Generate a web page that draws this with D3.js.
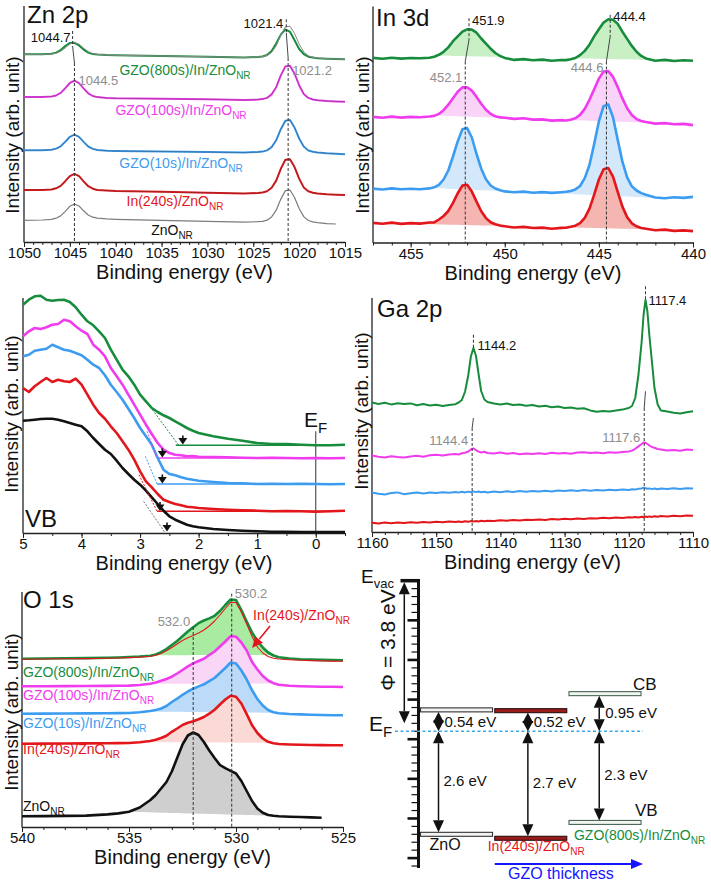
<!DOCTYPE html>
<html><head><meta charset="utf-8">
<script src="https://cdn.jsdelivr.net/npm/d3@7/dist/d3.min.js"></script>
<style>html,body{margin:0;padding:0;background:#fff;}svg{display:block;}</style>
</head><body>
<svg id="chart" width="711" height="882"></svg>
<script>
// ======================= DATA =======================
const SERIES_MAIN = ['GZO(800s)/In/ZnO', 'GZO(100s)/In/ZnO', 'GZO(10s)/In/ZnO', 'In(240s)/ZnO', 'ZnO'];
const SERIES_SUB = 'NR';

// ---- Zn 2p ----
const ZN_TICKS = [1050, 1045, 1040, 1035, 1030, 1025, 1020, 1015];
const ZN_BE = [1050,1048,1047,1046.5,1046,1045.5,1045,1044.5,1044,1043.5,1043,1042.5,1042,1041,1040,1035,1030,1026,1024.5,1024,1023.5,1023,1022.5,1022,1021.5,1021,1020.5,1020,1019.5,1019,1018.5,1018,1017,1016,1015];
const ZN_GZO800 = [187.7,187.8,188.3,189.4,191.9,196.0,199.1,199.2,196.5,192.4,189.4,187.9,187.4,186.9,186.7,186.0,185.3,184.5,185.0,185.5,187.0,191.0,198.5,207.4,212.6,210.2,201.8,193.0,187.8,185.3,184.4,183.8,183.3,183.0,182.7];
const ZN_GZO800_REF = [187.7,187.7,188.0,188.8,190.7,194.1,197.9,199.6,197.9,193.9,190.4,188.4,187.5,187.0,186.7,186.0,185.3,184.5,185.0,185.4,186.4,189.6,196.2,207.0,215.2,215.8,208.6,197.9,190.0,186.2,184.8,184.1,183.3,183.0,182.7];
const ZN_GZO100 = [145.0,145.0,145.5,146.5,149.1,153.8,159.0,161.3,158.8,153.6,148.7,146.0,144.9,144.1,143.7,143.2,142.7,141.9,142.4,142.9,144.1,147.6,154.8,166.6,175.6,176.2,168.3,156.8,148.0,144.1,142.5,141.8,141.0,140.6,140.3];
const ZN_GZO10 = [91.7,91.8,92.3,93.4,95.7,100.2,105.2,107.3,105.1,100.1,95.5,93.1,92.0,91.3,91.0,90.5,90.0,89.4,90.0,90.4,91.6,94.9,101.7,112.8,121.3,122.0,114.4,103.5,95.4,91.5,90.2,89.5,88.7,88.2,87.7];
const ZN_IN240 = [52.0,52.1,52.5,53.7,56.1,60.8,65.9,68.2,65.8,60.6,55.8,53.3,52.0,51.4,51.0,50.2,49.3,48.5,49.0,49.5,50.7,54.2,61.4,73.2,82.2,82.8,74.9,63.4,54.6,50.7,49.2,48.4,47.7,47.3,47.0];
const ZN_ZNO = [21.7,22.0,22.6,23.8,26.1,30.6,35.7,38.0,36.0,31.2,27.0,24.8,23.8,23.1,22.7,21.7,20.7,19.9,20.3,20.7,21.8,25.1,31.8,42.9,51.4,52.0,44.5,33.5,25.4,21.5,20.2,19.4,18.4,18.0,null];
const ZN_PEAK_TOP = [1044.7, 1021.4];
const ZN_PEAK_BOT = [1044.5, 1021.2];

// ---- In 3d ----
const IN_TICKS = [455, 450, 445, 440];
const IN_BE = [457,456.5,456,455.5,455,454.5,454,453.75,453.5,453.25,453,452.75,452.5,452.25,452,451.75,451.5,451.25,451,450.75,450.5,450.25,450,449.5,449,448.5,448,447.5,447,446.75,446.5,446.25,446,445.75,445.5,445.25,445,444.75,444.5,444.25,444,443.75,443.5,443.25,443,442.75,442.5,442,441.5,441,440.5,440];
const IN_GZO800 = [184.6,183.7,184.8,183.9,184.5,184.3,184.8, 185.7,187.7,190.7,195.1,201.3,206.1,210.9,213.2,212.9,209.8,204.0,198.9,193.8,189.5,186.5, 184.6,182.6,183.4,182.2,182.9,181.8,182.5, 182.4,183.2,184.5,187.4,191.6,197.8,206.1,213.2,219.9,223.2,222.8,218.6,210.8,203.6,196.6,190.7,186.6, 184.1,181.8,182.6,181.5,182.3,181.7];
const IN_GZO100 = [125.6,124.8,125.9,124.9,125.6,125.2,126.0, 126.6,128.6,132.3,137.8,144.3,150.7,155.1,155.3,151.9,145.6,138.8,132.8,128.7,126.2,125.1, 124.8,123.6,124.2,122.9,123.1,121.9,122.4, 122.0,122.7,124.2,127.6,133.6,142.7,153.3,163.9,171.0,171.4,165.7,155.4,144.1,134.3,127.5,123.4,121.5, 120.5,118.9,119.4,118.2,118.6,117.4];
const IN_GZO10 = [53.9,53.0,54.1,53.2,53.8,53.3,54.1, 55.2,57.6,63.0,72.0,86.0,101.1,113.2,114.4,105.0,88.5,73.8,63.3,57.0,54.0,52.2, 51.1,50.2,50.9,49.8,50.4,49.6,50.3, 50.7,51.5,53.1,56.5,64.4,77.5,98.5,121.1,136.3,138.0,125.3,102.7,80.8,65.2,56.2,52.0,49.4, 47.7,45.0,44.2,45.3,44.6,45.6];
const IN_IN240 = [19.6,18.8,19.9,18.6,19.4,18.9,20.0, 20.1,23.0,26.5,31.5,39.6,49.2,56.9,57.8,50.9,40.9,31.3,24.4,20.2,18.2,16.9, 16.2,15.0,15.6,14.5,14.9,13.8,14.6, 14.8,15.7,16.8,19.3,24.7,33.8,47.8,63.0,73.3,74.5,65.9,50.6,35.9,25.4,19.2,16.2,14.5, 13.7,12.2,12.9,11.6,12.1,11.4];
const IN_FILL = [[453.6, 441.6], [453.7, 441.6], [453.9, 441.6], [457, 441.5]];
const IN_PEAK_TOP = [451.9, 444.4];
const IN_PEAK_BOT = [452.1, 444.6];

// ---- VB ----
const VB_TICKS = [5, 4, 3, 2, 1, 0];
const VB_BE = [5,4.9,4.8,4.7,4.6,4.5,4.4,4.3,4.2,4.1,4,3.9,3.8,3.7,3.6,3.5,3.4,3.3,3.2,3.1,3,2.9,2.8,2.7,2.6,2.5,2.4,2.3,2.2,2.1,2,1.75,1.5,1.25,1,0.75,0.5,0.25,0,-0.25,-0.5];
const VB_GZO800 = [228.3,233.3,236.7,237.3,233.3,232.3,233,233.3,231,225.7,218.3,211.7,207.7,201.7,195,183.3,173.3,163.3,156.7,148.3,138.3,131.7,125,121,117.7,115,111.7,108.3,105,102.3,100,96.7,94.3,92.3,90,89,89,88.3,87.7,87.7,88.3];
const VB_GZO100 = [196.7,201.7,205,204,205.7,208.3,209,213.3,211.7,206.7,202.3,199,188.3,183.3,176.7,165,156.7,148.3,138.3,128.3,118.3,108.3,99,90,83.3,80,78.3,77.7,76.7,77,76.3,76,75.7,75.3,75,75.3,75,74.7,75,74.7,75];
const VB_GZO10 = [176.7,178.3,182.3,183.3,184.3,188.3,185.7,183.3,182.3,180,177.7,173.3,168.3,165,157.7,148.3,141,133.3,124.3,115,105,96.7,88.3,75,63.3,59,57.7,55.7,54.3,53.3,52.3,51,50,49.7,49,49.3,49,49.3,49,48.7,49];
const VB_IN240 = [145,141,146.7,151,155,151,153.3,151.7,151,154.3,148.3,138.3,128.3,120,114.3,106.7,100,91.7,83.3,73.3,61.7,51.7,45.7,39,33.3,31,29,27.7,26.3,25.7,25,24,23.3,22.7,22.3,21.7,22,21.7,21.3,21.7,22.3];
const VB_ZNO = [112.3,112.7,113.3,114,114.3,114.3,113.3,111.7,110,108.3,106.7,101.7,95,89,83.3,79,72.3,65,59,53.3,48.3,42.3,35.7,29,22.3,16.7,13.3,10.7,8.3,6.7,5.7,4,3,2.3,1.7,1.3,1.3,1,1,1,1];
const VB_TANGENT = [[2.79,123.3,2.34,87.7],[2.88,101.7,2.71,75],[2.91,76.7,2.71,49],[3.02,58.3,2.71,21.7],[2.94,31.7,2.57,0]];
const VB_BASE = [[2.39,87.7],[2.71,75],[2.71,49],[2.71,21.7]];
const VB_ONSET = [2.27, 2.62, 2.62, 2.66, 2.54];
const VB_ONSET_LEVEL = [88.5, 75.5, 49.5, 22, 1.5];

// ---- Ga 2p ----
const GA_TICKS = [1160, 1150, 1140, 1130, 1120, 1110];
const GA_BE = [1160,1159,1158,1157,1156,1155,1154,1153,1152,1151,1150,1149,1148,1147,1146.5,1146,1145.5,1145,1144.6,1144.2,1143.8,1143.4,1143,1142.5,1142,1141,1140,1139,1138,1137,1136,1135,1134,1133,1132,1131,1130,1129,1128,1127,1126,1125,1124,1123,1122,1121,1120,1119.5,1119,1118.5,1118,1117.7,1117.4,1117.1,1116.8,1116.4,1116,1115.5,1115,1114,1113,1112,1111,1110];
const GA_GZO800 = [129.5,128.0,129.2,127.6,128.8,127.9,128.6,126.8,127.9,126.5,127.2,126.0,127.1,127.8, 129.5,132.0,140.5,157.0,175.5,184.0,176.0,158.0,141.0,132.5,130.0, 128.5,127.6,128.4,127.0,127.5,126.2,126.9,125.5,126.2,124.8,125.4,124.0,124.6,123.2,123.8,121.6,120.2,121.0,120.6,121.5,122.4,124.0, 126.0,134.0,157.0,190.0,217.0,232.0,220.5,197.0,170.5,144.0,127.5,121.5, 120.4,119.2,118.6,119.8,120.8];
const GA_GZO100 = [76.5,75.2,74.6,75.8,74.9,74.5,75.6,76.2,75.3,76.8,77.2,76.4,77.6,78.0, 77.5,78.8,79.2,80.5,82.6,83.6,81.8,80.4,79.5,80.3,79.0, 78.6,79.4,78.2,78.9,77.8,78.6,77.9,78.8,78.1,79.2,78.4,79.0,78.3,79.4,79.8,78.9,79.6,78.8,79.7,79.2,80.0,80.6, 81.4,83.2,85.6,88.0,89.6,89.2,88.0,86.5,85.0,84.2,83.0,82.6, 81.4,82.0,81.2,82.4,82.0];
const GA_GZO10 = [39.5,38.2,37.6,38.9,39.6,37.8,38.8,39.4,38.5,39.6,38.9,39.8,39.2,40.1, 39.4,40.2,39.6,40.4,39.8,40.6,39.9,40.5,39.7,40.3,39.6, 40.5,39.8,40.7,40.1,40.9,40.2,41.0,40.4,41.2,40.6,41.4,41.0,41.7,41.1,41.9,41.3,42.0,41.5,42.2,41.8,42.5,42.1, 42.8,42.4,43.2,43.6,44.4,43.8,43.2,43.6,42.9,43.5,42.8,43.4, 43.0,43.7,43.1,43.8,43.4];
const GA_IN240 = [9.2,8.4,9.6,8.8,9.5,8.9,9.8,9.2,10.1,9.4,10.3,9.7,10.5,10.0, 10.6,10.1,10.8,10.3,10.9,10.4,11.0,10.5,11.2,10.7,11.3, 11.0,11.8,11.3,12.0,11.5,12.3,11.9,12.6,12.1,12.9,12.4,13.2,12.7,13.5,13.0,13.8,13.4,14.2,13.7,14.5,14.0,14.8, 14.4,15.0,14.6,15.2,14.8,15.4,15.0,15.6,15.1,15.8,15.3,16.0, 15.6,16.3,15.8,16.6,16.2];
const GA_PEAK_TOP = [1144.2, 1117.4];
const GA_PEAK_BOT = [1144.4, 1117.6];

// ---- O 1s ----
const O_TICKS = [540, 535, 530, 525];
const O_BE = [540,539,538,537,536,535.5,535,534.5,534,533.75,533.5,533.25,533,532.75,532.5,532.25,532,531.75,531.5,531.25,531,530.75,530.5,530.25,530,529.75,529.5,529.25,529,528.75,528.5,528.25,528,527.5,527,526.5,526,525.5,525];
const O_GZO800 = [168.3,168.5,168.7,168.9,169.2,169.5,170.0,170.5,171.3, 172.5,174.8,178.0,182.0,186.0,190.8,195.5,199.8,203.8,206.5,208.6,211.2,216.0,222.0,227.5,227.0,217.0,205.5,194.5,186.0,179.5,174.5,171.5,169.8, 168.5,167.8,167.4,167.1,166.9,166.7];
const O_IN240_REF = [167.8,168.0,168.2,168.4,168.7,169.0,169.4,169.9,170.8, 171.8,173.5,176.2,179.5,183.0,186.5,189.2,191.5,194.0,197.0,201.0,206.0,212.0,218.5,224.5,224.5,215.0,203.0,190.5,180.0,174.0,170.5,168.8,168.0, 167.3,166.8,166.4,166.1,165.9,165.7];
const O_GZO100 = [140.7,140.8,140.9,141.0,141.1,141.2,141.4,142.0,143.3, 144.5,146.2,148.0,150.3,153.5,157.0,160.6,163.6,166.0,168.3,172.0,175.5,180.5,185.5,190.8,190.3,184.5,176.5,165.0,157.5,151.0,146.5,143.8,142.3, 141.2,140.8,140.5,140.3,140.2,140.0];
const O_GZO10 = [113.3,113.4,113.5,113.6,113.8,113.9,114.0,114.8,116.0, 117.0,118.5,121.0,125.0,128.3,132.2,135.5,138.3,140.6,142.7,145.8,149.0,154.0,159.0,164.5,163.5,156.5,147.5,136.7,128.0,121.5,117.0,114.8,113.8, 113.0,112.6,112.3,112.0,111.8,111.7];
const O_IN240 = [83.3,83.4,83.5,83.6,83.8,83.9,84.0,84.8,86.0, 87.3,89.0,91.3,95.2,98.5,102.0,104.2,105.7,107.7,110.0,113.3,117.3,122.5,127.5,131.3,130.3,123.5,112.8,101.7,94.0,88.5,85.2,83.8,83.0, 82.5,82.2,82.0,81.9,81.8,81.7];
const O_ZNO = [10.7,10.9,11.1,11.4,12.6,13.6,15.2,19.5,27.0, 32.0,38.5,45.0,55.5,69.0,82.5,91.5,94.5,92.0,85.0,76.5,69.0,62.0,58.8,56.2,53.5,46.0,36.0,26.0,18.5,14.2,12.0,11.2,10.8, 10.3,10.0,9.6,9.2,null,null];
const O_FILL = [[533.9, 528.3], [534.0, 528.2], [534.2, 528.1], [534.4, 528.3], [535.0, 528.3]];
const O_PEAKS = [532.0, 530.2];

// ---- Energy diagram ----
const ED_NAMES = ['ZnO', 'In(240s)/ZnO', 'GZO(800s)/In/ZnO'];
const ED_CB = [0.54, 0.52, 0.95];     // CB minimum above E_F (eV)
const ED_VB = [2.6, 2.7, 2.3];        // VB maximum below E_F (eV)
const ED_PHI = 3.8;                   // work function (eV)

// ======================= STYLE =======================
const FONT = '"Liberation Sans", Arial, Helvetica, sans-serif';
const COL = ['#178c3c', '#f03cee', '#3c9cf0', '#e3171b', '#111111'];
const IN_FILLCOL = ['#c8f0c4', '#fad3f8', '#d4e8fb', '#f5b5b1'];
const O_FILLCOL = ['#a9eca1', '#f9d5f6', '#bcdbf8', '#fbdad6', '#cfcfcf'];
const GRAYTXT = '#8d8d8d';

const svg = d3.select('#chart').attr('font-family', FONT);

function txt(g, x, y, main, sub, o = {}) {
  const size = o.size || 14;
  const t = g.append('text').attr('x', x).attr('y', y).attr('font-size', size)
    .attr('fill', o.color || '#111').attr('text-anchor', o.anchor || 'start');
  if (o.transform) t.attr('transform', o.transform);
  t.append('tspan').text(main);
  if (sub) t.append('tspan').attr('font-size', o.subSize || Math.round(size * 0.72))
    .attr('dy', o.subDy || Math.round(size * 0.3)).text(sub);
  return t;
}

function makePanel(o) {
  const g = svg.append('g');
  const x = d3.scaleLinear().domain(o.xDomain).range(o.xRange);
  const y = d3.scaleLinear().domain(o.yDomain).range(o.yRange);
  const yb = o.yRange[0];
  const gMin = g.append('g').attr('transform', `translate(0,${yb})`)
    .call(d3.axisBottom(x).tickValues(o.minor).tickSize(3).tickFormat(() => '').tickSizeOuter(0));
  gMin.select('.domain').remove();
  const gMaj = g.append('g').attr('transform', `translate(0,${yb})`)
    .call(d3.axisBottom(x).tickValues(o.major).tickSize(5).tickSizeOuter(0).tickFormat(d3.format('d')));
  gMaj.select('.domain').attr('stroke', '#222').attr('stroke-width', 1.3);
  gMaj.selectAll('text').attr('y', 5.5).attr('dy', '0.71em').attr('font-size', 15)
    .attr('font-family', FONT).attr('fill', '#111');
  g.selectAll('.tick line').attr('stroke', '#222').attr('stroke-width', 1);
  g.append('line').attr('x1', o.xRange[0]).attr('x2', o.xRange[0]).attr('y1', yb + 0.6).attr('y2', o.yRange[1])
    .attr('stroke', '#222').attr('stroke-width', 1.3);
  g.append('text').attr('x', (o.xRange[0] + o.xRange[1]) / 2).attr('y', yb + 37).attr('text-anchor', 'middle')
    .attr('font-size', 20).attr('fill', '#111').text('Binding energy (eV)');
  g.append('text').attr('transform', `translate(${o.yLabelX},${o.yLabelY}) rotate(-90)`).attr('text-anchor', 'middle')
    .attr('font-size', 19).attr('fill', '#111').text('Intensity (arb. unit)');
  g.append('text').attr('x', o.titleX).attr('y', o.titleY).attr('font-size', 24).attr('fill', '#111').text(o.title);
  return { g, x, y };
}

function drawLine(P, xs, vals, color, width, opacity) {
  const pts = xs.map((b, i) => [b, vals[i]]);
  const line = d3.line().defined(d => d[1] != null).x(d => P.x(d[0])).y(d => P.y(d[1]));
  return P.g.append('path').datum(pts).attr('d', line).attr('fill', 'none').attr('stroke', color)
    .attr('stroke-width', width).attr('stroke-linejoin', 'round').attr('stroke-opacity', opacity == null ? 1 : opacity);
}

function drawFill(P, xs, vals, range, color) {
  const pts = xs.map((b, i) => [b, vals[i]]).filter(d => d[1] != null);
  const interp = d3.scaleLinear().domain(pts.map(d => d[0])).range(pts.map(d => d[1]));
  const [hi, lo] = range;
  const vHi = interp(hi), vLo = interp(lo);
  const base = b => vHi + (vLo - vHi) * (hi - b) / (hi - lo);
  const seg = [[hi, vHi]].concat(pts.filter(d => d[0] < hi && d[0] > lo)).concat([[lo, vLo]]);
  const area = d3.area().x(d => P.x(d[0])).y0(d => P.y(base(d[0]))).y1(d => P.y(Math.max(d[1], base(d[0]))));
  P.g.append('path').datum(seg).attr('d', area).attr('fill', color).attr('stroke', 'none');
}

function seg(P, b1, v1, b2, v2, dashed, color, w) {
  P.g.append('line').attr('x1', P.x(b1)).attr('x2', P.x(b2)).attr('y1', P.y(v1)).attr('y2', P.y(v2))
    .attr('stroke', color || '#333').attr('stroke-width', w || 1)
    .attr('stroke-dasharray', dashed ? (typeof dashed === 'string' ? dashed : '3,2') : null);
}

function head(g, x1, y1, x2, y2, len, w, color) {
  const dx = x2 - x1, dy = y2 - y1, L = Math.hypot(dx, dy) || 1;
  const ux = dx / L, uy = dy / L, bx = x2 - ux * len, by = y2 - uy * len;
  g.append('path').attr('d', `M${x2},${y2}L${bx - uy * w / 2},${by + ux * w / 2}L${bx + uy * w / 2},${by - ux * w / 2}Z`)
    .attr('fill', color || '#111');
}

const fmt1 = d3.format('.1f');

// ======================= Zn 2p =======================
{
  const P = makePanel({ xDomain: [1050, 1015], xRange: [24, 345], yDomain: [0, 236], yRange: [242, 6],
    major: ZN_TICKS, minor: d3.range(1015, 1051, 1), yLabelX: 18.5, yLabelY: 135, title: 'Zn 2p', titleX: 27, titleY: 23 });
  const series = [ZN_GZO800, ZN_GZO100, ZN_GZO10, ZN_IN240];
  series.forEach((s, i) => drawLine(P, ZN_BE, s, COL[i], 2));
  drawLine(P, ZN_BE, ZN_GZO800_REF, '#8a8a8a', 1);
  [ZN_GZO100, ZN_GZO10, ZN_IN240].forEach(s => drawLine(P, ZN_BE, s, '#333', 0.8, 0.45));
  drawLine(P, ZN_BE, ZN_ZNO, '#7c7c7c', 1.2);
  const mk = [[211, 196, 179], [222.7, 209, 184]];
  ZN_PEAK_TOP.forEach((pt, i) => {
    const pb = ZN_PEAK_BOT[i], m = mk[i];
    seg(P, pt, m[0], pt, m[1], true);
    seg(P, pt, m[1], pb, m[2], false, '#333', 0.9);
    seg(P, pb, m[2], pb, 0, true);
  });
  txt(P.g, P.x(ZN_PEAK_TOP[0]) - 2, 42, fmt1(ZN_PEAK_TOP[0]), null, { size: 13, anchor: 'end' });
  txt(P.g, P.x(ZN_PEAK_TOP[1]) - 3, 28, fmt1(ZN_PEAK_TOP[1]), null, { size: 13, anchor: 'end' });
  txt(P.g, P.x(ZN_PEAK_BOT[0]) + 4, 85, fmt1(ZN_PEAK_BOT[0]), null, { size: 13, color: GRAYTXT });
  txt(P.g, P.x(ZN_PEAK_BOT[1]) + 4, 75, fmt1(ZN_PEAK_BOT[1]), null, { size: 13, color: GRAYTXT });
  const lab = [[185, 75], [181, 115], [181, 168], [175, 206], [172, 235]];
  SERIES_MAIN.forEach((s, i) => txt(P.g, lab[i][0], lab[i][1], s, SERIES_SUB,
    { size: 14, subSize: 10, subDy: 4, anchor: 'middle', color: i === 4 ? '#111' : COL[i] }));
}

// ======================= In 3d =======================
{
  const P = makePanel({ xDomain: [457, 440], xRange: [373, 693], yDomain: [0, 236], yRange: [242.5, 6.5],
    major: IN_TICKS, minor: d3.range(440, 458, 1), yLabelX: 368.5, yLabelY: 135, title: 'In 3d', titleX: 376, titleY: 26 });
  const series = [IN_GZO800, IN_GZO100, IN_GZO10, IN_IN240];
  series.forEach((s, i) => drawFill(P, IN_BE, s, IN_FILL[i], IN_FILLCOL[i]));
  series.forEach((s, i) => drawLine(P, IN_BE, s, COL[i], 2.6));
  const mk = [[224.3, 202.7, 181], [227.7, 206, 181]];
  IN_PEAK_TOP.forEach((pt, i) => {
    const pb = IN_PEAK_BOT[i], m = mk[i];
    seg(P, pt, m[0], pt, m[1], true);
    seg(P, pt, m[1], pb, m[2], false, '#333', 0.9);
    seg(P, pb, m[2], pb, 0, true);
  });
  txt(P.g, P.x(IN_PEAK_TOP[0]) + 3, 25, fmt1(IN_PEAK_TOP[0]), null, { size: 13 });
  txt(P.g, P.x(IN_PEAK_TOP[1]) + 3, 21, fmt1(IN_PEAK_TOP[1]), null, { size: 13 });
  txt(P.g, P.x(IN_PEAK_BOT[0]) - 3, 82, fmt1(IN_PEAK_BOT[0]), null, { size: 13, anchor: 'end', color: GRAYTXT });
  txt(P.g, P.x(IN_PEAK_BOT[1]) - 3, 72, fmt1(IN_PEAK_BOT[1]), null, { size: 13, anchor: 'end', color: GRAYTXT });
}

// ======================= VB =======================
{
  const P = makePanel({ xDomain: [5, -0.5], xRange: [23, 345], yDomain: [0, 235], yRange: [533, 298],
    major: VB_TICKS, minor: d3.range(-0.5, 5, 0.5), yLabelX: 18, yLabelY: 414, title: 'VB', titleX: 25, titleY: 527 });
  const series = [VB_GZO800, VB_GZO100, VB_GZO10, VB_IN240, VB_ZNO];
  seg(P, 0, 101.7, 0, 0, false, '#555', 1.2);
  txt(P.g, 304, 427, 'E', 'F', { size: 21, subSize: 15, subDy: 6 });
  VB_BASE.forEach((b, i) => seg(P, b[0], b[1], -0.5, b[1], false, COL[i], 1.4));
  series.forEach((s, i) => drawLine(P, VB_BE, s, COL[i], 2.6));
  VB_TANGENT.forEach((t, i) => seg(P, t[0], t[1], t[2], t[3], '2,1.5', i === 4 ? '#777' : COL[i], 1));
  VB_ONSET.forEach((b, i) => {
    const lv = VB_ONSET_LEVEL[i];
    const xx = P.x(b);
    P.g.append('line').attr('x1', xx).attr('x2', xx).attr('y1', P.y(lv + 9)).attr('y2', P.y(lv + 4))
      .attr('stroke', '#111').attr('stroke-width', 1.6);
    head(P.g, xx, P.y(lv + 9), xx, P.y(lv), 6.5, 9, '#111');
  });
}

// ======================= Ga 2p =======================
{
  const P = makePanel({ xDomain: [1160, 1110], xRange: [372, 693], yDomain: [0, 234], yRange: [532, 298],
    major: GA_TICKS, minor: d3.range(1110, 1161, 2), yLabelX: 367.5, yLabelY: 411, title: 'Ga 2p', titleX: 377, titleY: 317 });
  const series = [GA_GZO800, GA_GZO100, GA_GZO10, GA_IN240];
  series.forEach((s, i) => drawLine(P, GA_BE, s, COL[i], 2));
  const mk = [[197.3, 184, 114, 104], [245.7, 232, 140.7, 124]];
  GA_PEAK_TOP.forEach((pt, i) => {
    const pb = GA_PEAK_BOT[i], m = mk[i];
    seg(P, pt, m[0], pt, m[1], true);
    seg(P, pt, m[2], pb, m[3], false, '#333', 0.9);
    seg(P, pb, m[3], pb, 0, true);
  });
  txt(P.g, P.x(GA_PEAK_TOP[0]) + 4, 350, fmt1(GA_PEAK_TOP[0]), null, { size: 13 });
  txt(P.g, P.x(GA_PEAK_TOP[1]) + 3, 305, fmt1(GA_PEAK_TOP[1]), null, { size: 13 });
  txt(P.g, P.x(GA_PEAK_BOT[0]) - 4, 445, fmt1(GA_PEAK_BOT[0]), null, { size: 13, anchor: 'end', color: GRAYTXT });
  txt(P.g, P.x(GA_PEAK_BOT[1]) - 4, 442, fmt1(GA_PEAK_BOT[1]), null, { size: 13, anchor: 'end', color: GRAYTXT });
}

// ======================= O 1s =======================
{
  const P = makePanel({ xDomain: [540, 525], xRange: [22, 343], yDomain: [0, 235], yRange: [827, 592],
    major: O_TICKS, minor: d3.range(525, 541, 1), yLabelX: 18, yLabelY: 712, title: 'O 1s', titleX: 23, titleY: 608 });
  const series = [O_GZO800, O_GZO100, O_GZO10, O_IN240, O_ZNO];
  series.forEach((s, i) => drawFill(P, O_BE, s, O_FILL[i], O_FILLCOL[i]));
  series.forEach((s, i) => drawLine(P, O_BE, s, COL[i], 2.6));
  drawLine(P, O_BE, O_IN240_REF, COL[3], 1.1);
  seg(P, O_PEAKS[0], 200, O_PEAKS[0], 0, true);
  seg(P, O_PEAKS[1], 233.3, O_PEAKS[1], 0, true);
  txt(P.g, P.x(O_PEAKS[0]) - 3, 626, fmt1(O_PEAKS[0]), null, { size: 13, anchor: 'end', color: GRAYTXT });
  txt(P.g, P.x(O_PEAKS[1]) + 3, 598, fmt1(O_PEAKS[1]), null, { size: 13, color: GRAYTXT });
  txt(P.g, 253, 620, SERIES_MAIN[3], SERIES_SUB, { size: 14, subSize: 10, subDy: 4, color: COL[3] });
  const ax1 = P.x(528.41), ay1 = P.y(201), ax2 = P.x(529.25), ay2 = P.y(179);
  P.g.append('line').attr('x1', ax1).attr('y1', ay1).attr('x2', ax2 + (ax1 - ax2) * 0.4).attr('y2', ay2 + (ay1 - ay2) * 0.4)
    .attr('stroke', COL[3]).attr('stroke-width', 1.6);
  head(P.g, ax1, ay1, ax2, ay2, 11, 10, COL[3]);
  const lab = [677, 700, 728, 754, 811];
  SERIES_MAIN.forEach((s, i) => txt(P.g, 23, lab[i], s, SERIES_SUB,
    { size: 14, subSize: 10, subDy: 4, color: i === 4 ? '#111' : COL[i] }));
}

// ======================= Energy diagram =======================
{
  const g = svg.append('g');
  const ey = d3.scaleLinear().domain([0, -7.25]).range([580.7, 868]);
  const ax = 418.5;
  const EF = -ED_PHI;
  const bx = d3.scaleBand().domain(d3.range(ED_NAMES.length)).range([420.5, 641]).paddingInner(0.03);
  const bw = bx.bandwidth();
  d3.range(1, 37).forEach(k => {
    const e = -k * 0.2, major = k % 5 === 0;
    g.append('line').attr('x1', ax).attr('x2', ax - (major ? 11 : 7)).attr('y1', ey(e)).attr('y2', ey(e))
      .attr('stroke', '#111').attr('stroke-width', major ? 2.6 : 1.2);
  });
  g.append('line').attr('x1', ax).attr('x2', ax).attr('y1', ey(0) - 1.5).attr('y2', 868)
    .attr('stroke', '#111').attr('stroke-width', 3);
  g.append('line').attr('x1', ax - 18).attr('x2', ax + 1.5).attr('y1', ey(0)).attr('y2', ey(0))
    .attr('stroke', '#111').attr('stroke-width', 3.5);
  txt(g, 361, 583, 'E', 'vac', { size: 19, subSize: 13, subDy: 5 });
  g.append('line').attr('x1', 395).attr('x2', 643).attr('y1', ey(EF)).attr('y2', ey(EF))
    .attr('stroke', '#3fa9e6').attr('stroke-width', 1.6).attr('stroke-dasharray', '3,2.5');
  txt(g, 369, ey(EF), 'E', 'F', { size: 21, subSize: 15, subDy: 6 });
  function darrow(x, y1, y2) {
    const hl = 12, hw = 11;
    const mid = (y1 + y2) / 2;
    const a = Math.min(y1 + hl, mid), b = Math.max(y2 - hl, mid);
    g.append('line').attr('x1', x).attr('x2', x).attr('y1', a).attr('y2', b).attr('stroke', '#111').attr('stroke-width', 1.5);
    const L = Math.min(hl, (y2 - y1) / 2 + 1);
    head(g, x, y1 + hl, x, y1, L, hw);
    head(g, x, y2 - hl, x, y2, L, hw);
  }
  darrow(404.3, ey(0) + 1.5, ey(EF) - 8);
  g.append('text').attr('transform', `translate(395,640) rotate(-90)`).attr('text-anchor', 'middle')
    .attr('font-size', 21).attr('fill', '#111').text(`\u03A6 = ${fmt1(ED_PHI)} eV`);
  const barStyle = [
    { fill: '#f2f2f2', stroke: '#333' },
    { fill: '#9a1b1b', stroke: '#2a1010' },
    { fill: '#eef6ef', stroke: '#4b6657' }];
  const arrFrac = [0.25, 0.46, 0.42];
  ED_NAMES.forEach((n, i) => {
    const cb = EF + ED_CB[i], vb = EF - ED_VB[i];
    [cb, vb].forEach(e => g.append('rect').attr('x', bx(i)).attr('width', bw).attr('y', ey(e) - 2).attr('height', 4)
      .attr('fill', barStyle[i].fill).attr('stroke', barStyle[i].stroke).attr('stroke-width', 1.1));
    const xa = bx(i) + bw * arrFrac[i];
    darrow(xa, ey(cb) + 2, ey(EF));
    darrow(xa, ey(EF), ey(vb) - 2);
    txt(g, xa + 6, (ey(cb) + ey(EF)) / 2 + 6, `${ED_CB[i].toFixed(2)} eV`, null, { size: 15 });
    txt(g, xa + 5, (ey(EF) + ey(vb)) / 2 + 3, `${fmt1(ED_VB[i])} eV`, null, { size: 15 });
  });
  txt(g, 633, ey(EF + ED_CB[2]) - 4, 'CB', null, { size: 17 });
  txt(g, 635, ey(EF - ED_VB[2]) - 6, 'VB', null, { size: 17 });
  txt(g, bx(0) + 9, 850, ED_NAMES[0], null, { size: 16 });
  txt(g, bx(1) - 7, 851, ED_NAMES[1], SERIES_SUB, { size: 14, subSize: 10, subDy: 4, color: COL[3] });
  txt(g, bx(2) + 5, 840, ED_NAMES[2], SERIES_SUB, { size: 14, subSize: 10, subDy: 4, color: COL[0] });
  g.append('line').attr('x1', bx(1)).attr('x2', bx(2) + bw - 8).attr('y1', 864).attr('y2', 864)
    .attr('stroke', '#1515ff').attr('stroke-width', 2);
  head(g, bx(1), 864, bx(2) + bw + 2, 864, 12, 10, '#1515ff');
  txt(g, 508, 879, 'GZO thickness', null, { size: 16, color: '#1515ff' });
}
</script>
</body></html>
